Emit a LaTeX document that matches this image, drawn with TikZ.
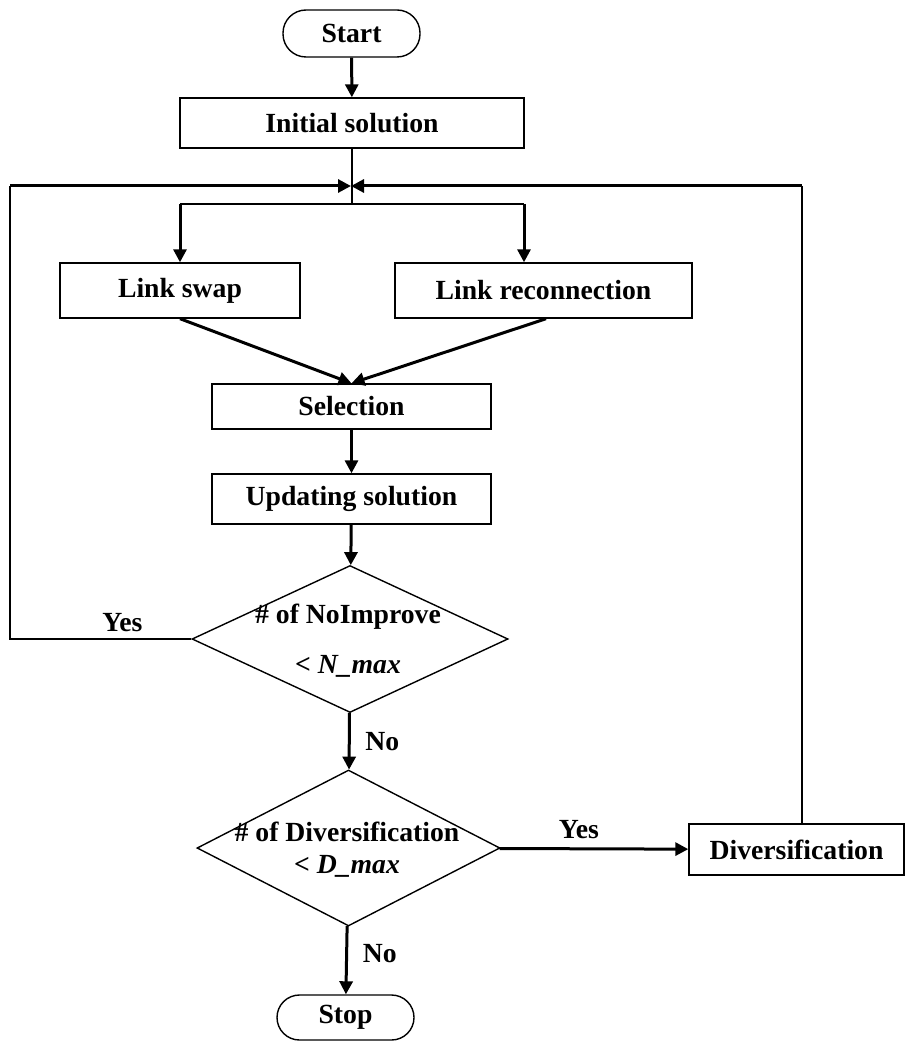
\documentclass[tikz,border=0pt]{standalone}
\usepackage{fontspec}
\setmainfont{Liberation Serif}
\usetikzlibrary{shapes.geometric,arrows.meta}

\begin{document}
\begin{tikzpicture}[x=0.5pt,y=-0.5pt,
		font=\fontsize{13.85}{16}\selectfont\bfseries,
		box/.style={draw,line width=0.7pt,rectangle,inner sep=0pt},
		term/.style={box,rounded corners=11.5pt},
		decision/.style={draw,line width=0.7pt,diamond,inner sep=0pt},
		arr/.style={line width=1.5pt,-{Triangle[length=6.5pt,width=6.5pt]}},
		thinline/.style={line width=0.7pt}]
		\useasboundingbox (0,0) rectangle (906,1043);

		% Blocks
		\node[term,minimum width=68.5pt,minimum height=23.5pt] (start) at (351.5,33.5) {Start};
		\node[box,minimum width=172pt,minimum height=25pt] (init) at (352,123) {Initial solution};
		\node[box,minimum width=120pt,minimum height=27.5pt] (swap) at (180,290.5) {Link swap};
		\node[box,minimum width=148.5pt,minimum height=27.5pt] (recon) at (543.5,290.5) {Link reconnection};
		\node[box,minimum width=139.5pt,minimum height=22.5pt] (sel) at (351.5,406.5) {Selection};
		\node[box,minimum width=139.5pt,minimum height=25pt] (upd) at (351.5,499) {Updating solution};
		\node[box,minimum width=107.5pt,minimum height=25.5pt] (div) at (796.5,849.5) {Diversification};
		\node[term,minimum width=68.5pt,minimum height=22.5pt,rounded corners=11.25pt] (stop) at (345.5,1017.5) {Stop};

		% Decisions
		\node[decision,minimum width=158pt,minimum height=73.5pt] (noimp) at (350,639) {};
		\node[align=center] (noimptext) at (348,641) {\# of NoImprove\\[9pt]< \textit{N\_max}};
		\node[decision,minimum width=151.5pt,minimum height=78pt] (divers) at (348.5,848) {};
		\node[align=center] (diverstext) at (347,850) {\# of Diversification\\< \textit{D\_max}};

		% Helper points
		\coordinate (join) at (351,186);
		\coordinate (fork) at (352,204);
		\coordinate (forkL) at (180,204);
		\coordinate (forkR) at (524,204);
		\coordinate (lefttop) at (10,186);
		\coordinate (leftbot) at (10,639);
		\coordinate (righttop) at (802,186);

		% Main flow
		\draw[arr] (start) -- (init);
		\draw[thinline] (init.south) -- (fork);
		\draw[thinline] (forkL) -- (forkR);
		\draw[arr] (forkL) -- (swap.north);
		\draw[arr] (forkR) -- (forkR |- recon.north);
		\draw[arr] (swap.south) -- (sel.north);
		\draw[arr] ([xshift=1.25pt]recon.south) -- (sel.north);
		\draw[arr] (sel) -- (upd);
		\draw[arr] (upd) -- (noimp);
		\draw[arr] (noimp) -- node[right,xshift=4pt] {No} (divers);
		\draw[arr] (divers) -- node[above,pos=0.42,yshift=1pt] {Yes} (div);
		\draw[arr] (divers) -- node[right,xshift=4pt,pos=0.4] {No} (stop);

		% Loops back
		\draw[thinline] (noimp.west) -- node[above,pos=0.38] {Yes} (leftbot) -- (lefttop);
		\draw[arr] (lefttop) -- (join);
		\draw[thinline] (div.north -| righttop) -- (righttop);
		\draw[arr] (righttop) -- (join);
	\end{tikzpicture}
\end{document}
